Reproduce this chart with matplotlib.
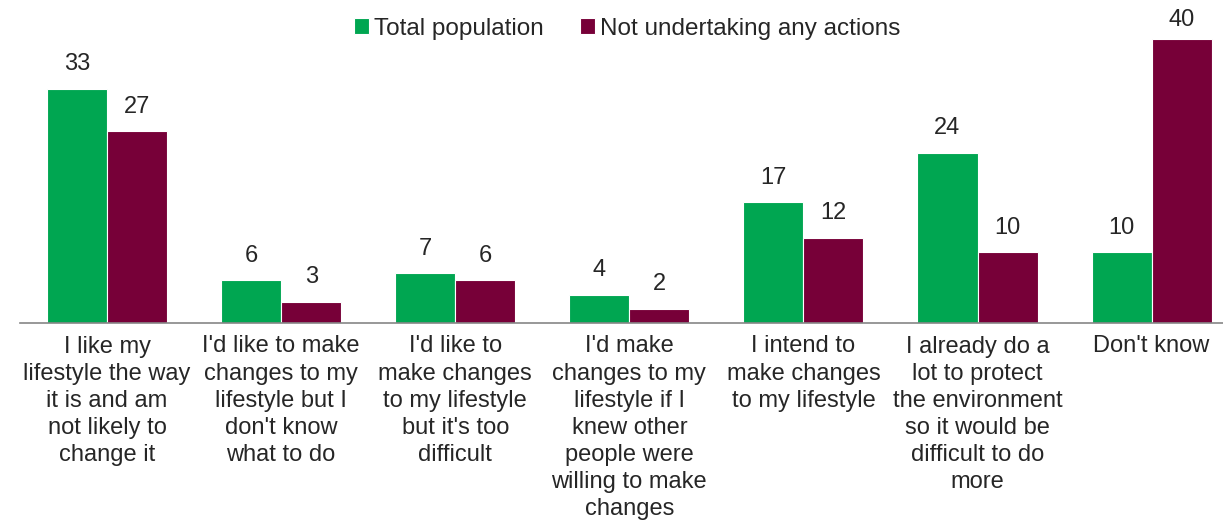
import matplotlib
matplotlib.use("Agg")
import matplotlib.pyplot as plt
import numpy as np

plt.rcParams['font.family'] = ['Liberation Sans', 'DejaVu Sans']

categories = [
    "I like my\nlifestyle the way\nit is and am\nnot likely to\nchange it",
    "I'd like to make\nchanges to my\nlifestyle but I\ndon't know\nwhat to do",
    "I'd like to\nmake changes\nto my lifestyle\nbut it's too\ndifficult",
    "I'd make\nchanges to my\nlifestyle if I\nknew other\npeople were\nwilling to make\nchanges",
    "I intend to\nmake changes\nto my lifestyle",
    "I already do a\nlot to protect\nthe environment\nso it would be\ndifficult to do\nmore",
    "Don't know",
]
total_pop = [33, 6, 7, 4, 17, 24, 10]
no_action = [27, 3, 6, 2, 12, 10, 40]

GREEN = "#00a651"
MAROON = "#770038"
TEXT = "#262626"
FS = 17

fig = plt.figure(figsize=(12.23, 5.2), dpi=100)
ax = fig.add_axes([20 / 1223, 197 / 520, 1203 / 1223, 284 / 520])

x = np.arange(len(categories))
w = 0.345
b1 = ax.bar(x - w / 2, total_pop, w, color=GREEN, edgecolor="white", linewidth=0.8,
            label="Total population")
b2 = ax.bar(x + w / 2, no_action, w, color=MAROON, edgecolor="white", linewidth=0.8,
            label="Not undertaking any actions")

# value labels above each bar, kept inside the top of the plot area
for bars in (b1, b2):
    for r in bars:
        ypos = min(r.get_height() + 1.9, 41.1)
        ax.text(r.get_x() + r.get_width() / 2, ypos, f"{r.get_height():.0f}",
                ha="center", va="bottom", fontsize=FS, color=TEXT)

ax.set_ylim(0, 40)
ax.set_xlim(-0.5, 6.41)
ax.set_yticks([])
ax.set_xticks(x)
ax.set_xticklabels(categories, fontsize=FS, color=TEXT, linespacing=1.3)
ax.tick_params(axis="x", length=0, pad=9)
for s in ("top", "right", "left"):
    ax.spines[s].set_visible(False)
ax.spines["bottom"].set_color("#868686")
ax.spines["bottom"].set_linewidth(1.2)

fig.legend(loc="upper center", bbox_to_anchor=(0.513, 1.008), ncol=2, frameon=False,
           fontsize=17.5, handlelength=0.62, handleheight=0.62, handletextpad=0.2,
           columnspacing=1.5, labelcolor=TEXT)

fig.savefig("out.png", dpi=100)
